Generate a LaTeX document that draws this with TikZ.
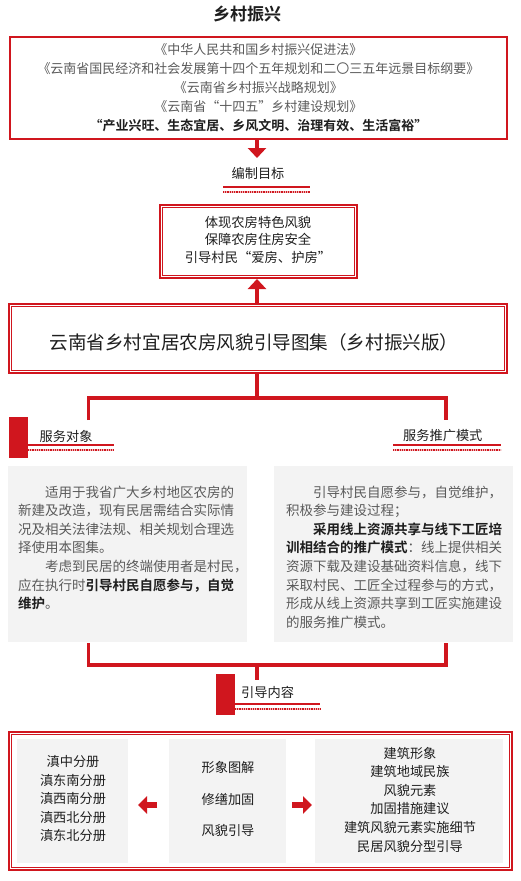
\documentclass[tikz,border=0pt]{standalone}
\usepackage{fontspec}
\setmainfont{Noto Sans CJK SC}[BoldFont={Noto Sans CJK SC Bold}]
\usetikzlibrary{arrows.meta}
\definecolor{cred}{RGB}{208,22,30}
\definecolor{cgray}{RGB}{243,243,243}
\definecolor{ctxt}{RGB}{90,90,90}
\definecolor{cdark}{RGB}{30,30,30}
\newcommand{\redrule}[3]{%
  \draw[cred,line width=1.2pt] (#1,#3) -- (#2,#3);
  \draw[cred!30,line width=2.6pt] (#1,#3+5) -- (#2,#3+5);
  \draw[cred,line width=2.6pt,dash pattern=on 0.9pt off 0.9pt] (#1,#3+5) -- (#2,#3+5);}
\begin{document}
\begin{tikzpicture}[x=1pt,y=-1pt,
  conn/.style={draw=cred,line width=3.5pt},
  arr/.style={draw=cred,line width=4.5pt,-{Triangle[width=18pt,length=10pt]}},
  blk/.style={draw=cred,line width=6pt,-{Triangle[width=17pt,length=9pt]}},
  dk/.style={text=cdark,inner sep=0pt},
  gbox/.style={fill=cgray,inner sep=0pt},
  hd/.style={text=cdark,font=\fontsize{13.2}{15}\selectfont,inner sep=0pt},
  redtab/.style={fill=cred,inner sep=0pt,minimum width=19pt,minimum height=41pt},
  body/.style={anchor=north west,inner sep=0pt,align=left,text=ctxt,font=\fontsize{13.5}{18.6}\selectfont},
  inrect/.style={draw=cred,line width=0.8pt}
]
\useasboundingbox (0,0) rectangle (521,881);
\fill[white] (0,0) rectangle (521,881);

\node[dk,font=\bfseries\fontsize{17}{20}\selectfont] (title) at (247,14) {乡村振兴};

\node[draw=cred,line width=1.3pt,minimum width=497pt,minimum height=102pt,inner sep=0pt,align=center,text=ctxt,font=\fontsize{13}{19}\selectfont] (top) at (258.5,88)
{《中华人民共和国乡村振兴促进法》\\
《云南省国民经济和社会发展第十四个五年规划和二〇三五年远景目标纲要》\\
《云南省乡村振兴战略规划》\\
《云南省“十四五”乡村建设规划》\\
\textcolor{cdark}{\bfseries “产业兴旺、生态宜居、乡风文明、治理有效、生活富裕”}};

\coordinate (a1) at (257,158);
\draw[arr] (top.south -| a1) -- (a1);
\node[hd] (goaltitle) at (258,173) {编制目标};
\redrule{223}{310}{187}

\node[draw=cred,line width=2pt,minimum width=197pt,minimum height=73pt,inner sep=0pt] (goal) at (258.5,241.5) {};
\draw[inrect] ([shift={(3.5,3.5)}]goal.north west) rectangle ([shift={(-3.5,-3.5)}]goal.south east);
\node[dk,align=center,font=\fontsize{13.3}{17.5}\selectfont] (goaltext) at (258,239.5) {体现农房特色风貌\\保障农房住房安全\\引导村民“爱房、护房”};

\node[draw=cred,line width=2.6pt,minimum width=498pt,minimum height=69pt,inner sep=0pt] (main) at (258,338.5) {};
\draw[inrect] ([shift={(4,4)}]main.north west) rectangle ([shift={(-4,-4)}]main.south east);
\node[dk,font=\fontsize{18.6}{22}\selectfont] (maintext) at (254,342) {云南省乡村宜居农房风貌引导图集（乡村振兴版）};
\draw[arr] (main.north -| a1) -- (goal.south -| a1);

\coordinate (j1) at (257,398);
\coordinate (c1) at (88.5,420);
\coordinate (c2) at (446,420);
\draw[conn] (main.south -| j1) -- (j1);
\draw[conn] (c1) |- (j1) -| (c2);

\node[redtab] (tab1) at (18.5,437.5) {};
\node[hd,anchor=west] (lab1) at (39.5,436) {服务对象};
\redrule{28}{114}{445}
\node[hd,anchor=west] (lab2) at (403,436) {服务推广模式};
\redrule{393}{501}{445}

\node[gbox,minimum width=239pt,minimum height=176pt] (lbox) at (127.5,554) {};
\node[gbox,minimum width=239pt,minimum height=176pt] (rbox) at (393.5,554) {};

\node[body] (ltext) at (18,485.5) {%
\hspace*{2em}适用于我省广大乡村地区农房的\\
新建及改造，现有民居需结合实际情\\
况及相关法律法规、相关规划合理选\\
择使用本图集。\\
\hspace*{2em}考虑到民居的终端使用者是村民，\\
应在执行时\textcolor{cdark}{\bfseries 引导村民自愿参与，自觉}\\
\textcolor{cdark}{\bfseries 维护}。};

\node[body] (rtext) at (286,485.5) {%
\hspace*{2em}引导村民自愿参与，自觉维护，\\
积极参与建设过程；\\
\hspace*{2em}\textcolor{cdark}{\bfseries 采用线上资源共享与线下工匠培}\\
\textcolor{cdark}{\bfseries 训相结合的推广模式}：线上提供相关\\
资源下载及建设基础资料信息，线下\\
采取村民、工匠全过程参与的方式，\\
形成从线上资源共享到工匠实施建设\\
的服务推广模式。};

\coordinate (j2) at (257,665);
\coordinate (d1) at (88.5,643);
\coordinate (d2) at (446,643);
\coordinate (j3) at (257,680);
\draw[conn] (d1) |- (j2) -| (d2);
\draw[conn] (j2) -- (j3);

\node[redtab] (tab3) at (225.5,694.5) {};
\node[hd,anchor=west] (lab3) at (241,692) {引导内容};
\redrule{235}{320}{704}

\node[draw=cred,line width=2.4pt,minimum width=503pt,minimum height=138pt,inner sep=0pt] (bot) at (260.5,801) {};
\draw[inrect] ([shift={(3.8,3.8)}]bot.north west) rectangle ([shift={(-3.8,-3.8)}]bot.south east);

\node[gbox,minimum width=111pt,minimum height=124pt] (bbl) at (72.5,801) {};
\node[gbox,minimum width=117pt,minimum height=124pt] (bbm) at (227.5,801) {};
\node[gbox,minimum width=188pt,minimum height=124pt] (bbr) at (409,801) {};

\node[dk,align=center,font=\fontsize{13.2}{18.5}\selectfont] (bl) at (73,799) {滇中分册\\滇东南分册\\滇西南分册\\滇西北分册\\滇东北分册};
\node[dk,align=center,font=\fontsize{13.2}{31.5}\selectfont] (bm) at (228,799) {形象图解\\修缮加固\\风貌引导};
\node[dk,align=center,font=\fontsize{13.2}{18.6}\selectfont] (br) at (410,799.5) {建筑形象\\建筑地域民族\\风貌元素\\加固措施建议\\建筑风貌元素实施细节\\民居风貌分型引导};

\coordinate (la0) at (157,805);
\coordinate (la1) at (138,805);
\draw[blk] (la0) -- (la1);
\coordinate (ra0) at (292,805);
\coordinate (ra1) at (312,805);
\draw[blk] (ra0) -- (ra1);
\end{tikzpicture}
\end{document}
